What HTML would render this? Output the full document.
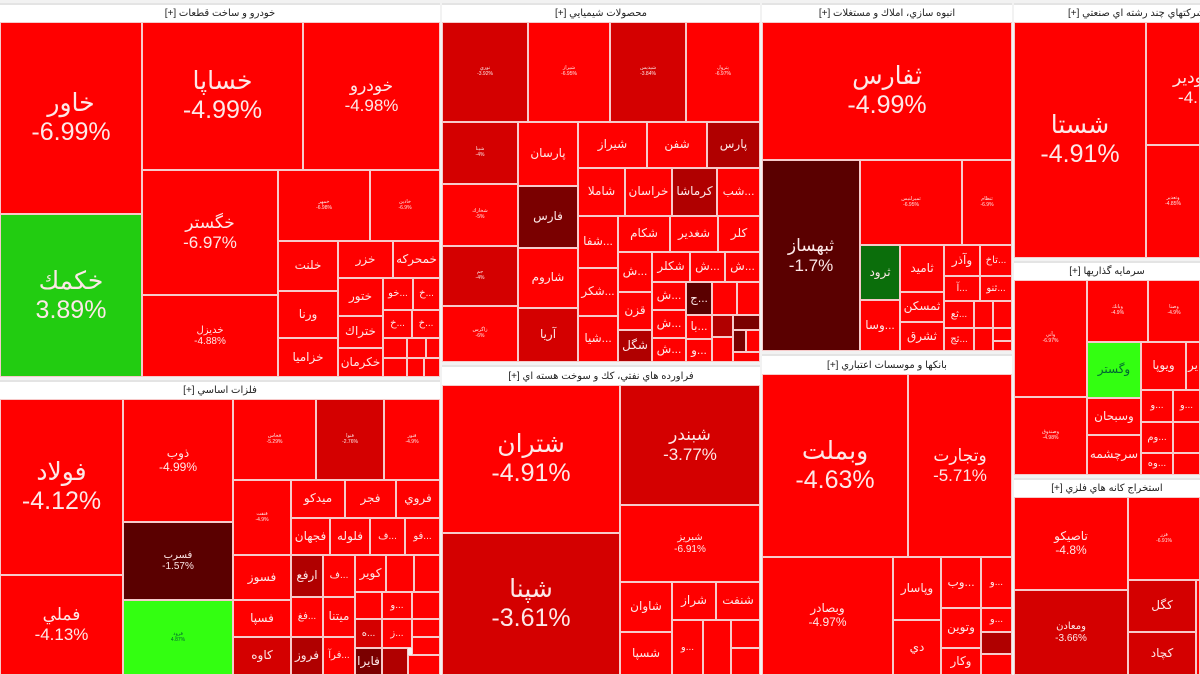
<!DOCTYPE html>
<html><head><meta charset="utf-8"><style>
body{margin:0;width:1200px;height:675px;overflow:hidden;background:#f2f2f2;position:relative;font-family:"Liberation Sans","DejaVu Sans","Noto Sans CJK SC",sans-serif}
.t{position:absolute;box-sizing:border-box;border:1px solid #f7caca;display:flex;align-items:center;justify-content:center;flex-direction:column;color:#fde8e8;text-align:center;line-height:1.15;overflow:hidden;background:#f00;font-size:12px;white-space:nowrap}
.h{position:absolute;box-sizing:border-box;background:#fff;border-top:2px solid #e4e4e4;display:flex;align-items:center;justify-content:center;font-size:10px;color:#222;white-space:nowrap;overflow:hidden;direction:rtl}
.b{font-size:25px}.m{font-size:17px}.s{font-size:10px}.x{font-size:5px}
.d1{background:#d40000}.d2{background:#b00000}.d3{background:#7a0000}.d4{background:#5a0000}.g{background:#22cc11}.gd{background:#0b6e0b}.gl{background:#33ff11;color:#063}
</style></head><body>
<!-- car -->
<div class="h" style="left:0;top:3px;width:440px;height:19px">خودرو و ساخت قطعات [+]</div>
<div class="t b" style="left:0;top:22px;width:142px;height:192px">خاور<br>-6.99%</div>
<div class="t b g" style="left:0;top:214px;width:142px;height:163px">خكمك<br>3.89%</div>
<div class="t b" style="left:142px;top:22px;width:161px;height:148px">خساپا<br>-4.99%</div>
<div class="t m" style="left:303px;top:22px;width:137px;height:148px">خودرو<br>-4.98%</div>
<div class="t m" style="left:142px;top:170px;width:136px;height:125px">خگستر<br>-6.97%</div>
<div class="t s" style="left:142px;top:295px;width:136px;height:82px">خديزل<br>-4.88%</div>
<div class="t x" style="left:278px;top:170px;width:92px;height:71px">خمهر<br>-6.98%</div>
<div class="t x" style="left:370px;top:170px;width:70px;height:71px">خاذين<br>-6.9%</div>
<div class="t" style="left:278px;top:241px;width:60px;height:50px">خلنت</div>
<div class="t" style="left:338px;top:241px;width:55px;height:37px">خزر</div>
<div class="t" style="left:393px;top:241px;width:47px;height:37px">خمحركه</div>
<div class="t" style="left:278px;top:291px;width:60px;height:47px">ورنا</div>
<div class="t" style="left:338px;top:278px;width:45px;height:38px">ختور</div>
<div class="t s" style="left:383px;top:278px;width:30px;height:32px">خو...</div>
<div class="t s" style="left:413px;top:278px;width:27px;height:32px">خ...</div>
<div class="t" style="left:278px;top:338px;width:60px;height:39px">خزاميا</div>
<div class="t" style="left:338px;top:316px;width:45px;height:32px">ختراك</div>
<div class="t" style="left:338px;top:348px;width:45px;height:29px">خكرمان</div>
<div class="t s" style="left:383px;top:310px;width:29px;height:28px">خ...</div>
<div class="t s" style="left:412px;top:310px;width:28px;height:28px">خ...</div>
<div class="t" style="left:383px;top:338px;width:24px;height:20px"></div>
<div class="t" style="left:407px;top:338px;width:19px;height:20px"></div>
<div class="t" style="left:426px;top:338px;width:14px;height:20px"></div>
<div class="t" style="left:383px;top:358px;width:24px;height:19px"></div>
<div class="t" style="left:407px;top:358px;width:17px;height:19px"></div>
<div class="t" style="left:424px;top:358px;width:16px;height:19px"></div>
<!-- metals -->
<div class="h" style="left:0;top:380px;width:440px;height:19px">فلزات اساسي [+]</div>
<div class="t b" style="left:0;top:399px;width:123px;height:176px">فولاد<br>-4.12%</div>
<div class="t m" style="left:0;top:575px;width:123px;height:100px">فملي<br>-4.13%</div>
<div class="t" style="left:123px;top:399px;width:110px;height:123px">ذوب<br>-4.99%</div>
<div class="t s d4" style="left:123px;top:522px;width:110px;height:78px">فسرب<br>-1.57%</div>
<div class="t x gl" style="left:123px;top:600px;width:110px;height:75px">فرود<br>4.87%</div>
<div class="t x" style="left:233px;top:399px;width:83px;height:81px">فخاس<br>-5.29%</div>
<div class="t x d1" style="left:316px;top:399px;width:68px;height:81px">فنوا<br>-2.76%</div>
<div class="t x" style="left:384px;top:399px;width:56px;height:81px">فنور<br>-4.9%</div>
<div class="t x" style="left:233px;top:480px;width:58px;height:75px">فنفت<br>-4.9%</div>
<div class="t" style="left:291px;top:480px;width:54px;height:38px">ميدكو</div>
<div class="t" style="left:345px;top:480px;width:51px;height:38px">فجر</div>
<div class="t" style="left:396px;top:480px;width:44px;height:38px">فروي</div>
<div class="t" style="left:291px;top:518px;width:39px;height:37px">فجهان</div>
<div class="t" style="left:330px;top:518px;width:40px;height:37px">فلوله</div>
<div class="t s" style="left:370px;top:518px;width:35px;height:37px">ف...</div>
<div class="t s" style="left:405px;top:518px;width:35px;height:37px">فو...</div>
<div class="t" style="left:233px;top:555px;width:58px;height:45px">فسوز</div>
<div class="t" style="left:233px;top:600px;width:58px;height:37px">فسپا</div>
<div class="t d1" style="left:233px;top:637px;width:58px;height:38px">كاوه</div>
<div class="t d2" style="left:291px;top:555px;width:32px;height:42px">ارفع</div>
<div class="t s" style="left:323px;top:555px;width:32px;height:42px">ف...</div>
<div class="t" style="left:355px;top:555px;width:31px;height:37px">كوير</div>
<div class="t" style="left:386px;top:555px;width:28px;height:37px"></div>
<div class="t" style="left:414px;top:555px;width:26px;height:37px"></div>
<div class="t s" style="left:291px;top:597px;width:32px;height:40px">فغ...</div>
<div class="t" style="left:323px;top:597px;width:32px;height:40px">ميتنا</div>
<div class="t" style="left:355px;top:592px;width:27px;height:27px"></div>
<div class="t s" style="left:382px;top:592px;width:30px;height:27px">و...</div>
<div class="t" style="left:412px;top:592px;width:28px;height:27px"></div>
<div class="t s d1" style="left:355px;top:619px;width:27px;height:29px">ه...</div>
<div class="t s" style="left:382px;top:619px;width:30px;height:29px">ز...</div>
<div class="t" style="left:412px;top:619px;width:28px;height:18px"></div>
<div class="t" style="left:412px;top:637px;width:28px;height:18px"></div>
<div class="t d2" style="left:291px;top:637px;width:32px;height:38px">فروز</div>
<div class="t s" style="left:323px;top:637px;width:32px;height:38px">فرآ...</div>
<div class="t d3" style="left:355px;top:648px;width:27px;height:27px">فايرا</div>
<div class="t d2" style="left:382px;top:648px;width:26px;height:27px"></div>
<div class="t" style="left:408px;top:655px;width:32px;height:20px"></div>
<!-- chemical -->
<div class="h" style="left:442px;top:3px;width:318px;height:19px">محصولات شيميايي [+]</div>
<div class="t x d1" style="left:442px;top:22px;width:86px;height:100px">نوري<br>-3.92%</div>
<div class="t x" style="left:528px;top:22px;width:82px;height:100px">شيراز<br>-6.95%</div>
<div class="t x d1" style="left:610px;top:22px;width:76px;height:100px">شپديس<br>-3.84%</div>
<div class="t x" style="left:686px;top:22px;width:74px;height:100px">پترول<br>-6.97%</div>
<div class="t x d1" style="left:442px;top:122px;width:76px;height:62px">شپنا<br>-4%</div>
<div class="t x" style="left:442px;top:184px;width:76px;height:62px">شخارك<br>-5%</div>
<div class="t x d1" style="left:442px;top:246px;width:76px;height:60px">جم<br>-4%</div>
<div class="t x" style="left:442px;top:306px;width:76px;height:56px">زاگرس<br>-6%</div>
<div class="t" style="left:518px;top:122px;width:60px;height:64px">پارسان</div>
<div class="t d3" style="left:518px;top:186px;width:60px;height:62px">فارس</div>
<div class="t" style="left:518px;top:248px;width:60px;height:60px">شاروم</div>
<div class="t d1" style="left:518px;top:308px;width:60px;height:54px">آريا</div>
<div class="t" style="left:578px;top:122px;width:69px;height:46px">شيراز</div>
<div class="t" style="left:647px;top:122px;width:60px;height:46px">شفن</div>
<div class="t d2" style="left:707px;top:122px;width:53px;height:46px">پارس</div>
<div class="t" style="left:578px;top:168px;width:47px;height:48px">شاملا</div>
<div class="t" style="left:625px;top:168px;width:47px;height:48px">خراسان</div>
<div class="t d2" style="left:672px;top:168px;width:45px;height:48px">كرماشا</div>
<div class="t" style="left:717px;top:168px;width:43px;height:48px">شب...</div>
<div class="t" style="left:578px;top:216px;width:40px;height:52px">شفا...</div>
<div class="t" style="left:578px;top:268px;width:40px;height:48px">شكر...</div>
<div class="t" style="left:578px;top:316px;width:40px;height:46px">شيا...</div>
<div class="t" style="left:618px;top:216px;width:52px;height:36px">شكام</div>
<div class="t" style="left:670px;top:216px;width:48px;height:36px">شغدير</div>
<div class="t" style="left:718px;top:216px;width:42px;height:36px">كلر</div>
<div class="t" style="left:618px;top:252px;width:34px;height:40px">ش...</div>
<div class="t" style="left:618px;top:292px;width:34px;height:38px">قزن</div>
<div class="t d2" style="left:618px;top:330px;width:34px;height:32px">شگل</div>
<div class="t" style="left:652px;top:252px;width:38px;height:30px">شكلر</div>
<div class="t" style="left:690px;top:252px;width:35px;height:30px">ش...</div>
<div class="t" style="left:725px;top:252px;width:35px;height:30px">ش...</div>
<div class="t" style="left:652px;top:282px;width:34px;height:28px">ش...</div>
<div class="t d4" style="left:686px;top:282px;width:26px;height:33px">ج...</div>
<div class="t" style="left:712px;top:282px;width:25px;height:33px"></div>
<div class="t" style="left:737px;top:282px;width:23px;height:33px"></div>
<div class="t" style="left:652px;top:310px;width:34px;height:28px">ش...</div>
<div class="t" style="left:686px;top:315px;width:26px;height:24px">با...</div>
<div class="t d2" style="left:712px;top:315px;width:21px;height:22px"></div>
<div class="t d3" style="left:733px;top:315px;width:27px;height:15px"></div>
<div class="t" style="left:652px;top:338px;width:34px;height:24px">ش...</div>
<div class="t" style="left:686px;top:339px;width:26px;height:23px">و...</div>
<div class="t" style="left:712px;top:337px;width:21px;height:25px"></div>
<div class="t d3" style="left:733px;top:330px;width:13px;height:22px"></div>
<div class="t" style="left:746px;top:330px;width:14px;height:22px"></div>
<div class="t" style="left:733px;top:352px;width:27px;height:10px"></div>
<!-- oil -->
<div class="h" style="left:442px;top:365px;width:318px;height:20px">فراورده هاي نفتي، كك و سوخت هسته اي [+]</div>
<div class="t b" style="left:442px;top:385px;width:178px;height:148px">شتران<br>-4.91%</div>
<div class="t b d1" style="left:442px;top:533px;width:178px;height:142px">شپنا<br>-3.61%</div>
<div class="t m d1" style="left:620px;top:385px;width:140px;height:120px">شبندر<br>-3.77%</div>
<div class="t s" style="left:620px;top:505px;width:140px;height:77px">شبريز<br>-6.91%</div>
<div class="t" style="left:620px;top:582px;width:52px;height:50px">شاوان</div>
<div class="t" style="left:620px;top:632px;width:52px;height:43px">شسپا</div>
<div class="t" style="left:672px;top:582px;width:44px;height:38px">شراز</div>
<div class="t" style="left:716px;top:582px;width:44px;height:38px">شنفت</div>
<div class="t s" style="left:672px;top:620px;width:31px;height:55px">و...</div>
<div class="t" style="left:703px;top:620px;width:28px;height:55px"></div>
<div class="t" style="left:731px;top:620px;width:29px;height:28px"></div>
<div class="t" style="left:731px;top:648px;width:29px;height:27px"></div>
<!-- building -->
<div class="h" style="left:762px;top:3px;width:250px;height:19px">انبوه سازي، املاك و مستغلات [+]</div>
<div class="t b" style="left:762px;top:22px;width:250px;height:138px">ثفارس<br>-4.99%</div>
<div class="t m d4" style="left:762px;top:160px;width:98px;height:191px">ثبهساز<br>-1.7%</div>
<div class="t x" style="left:860px;top:160px;width:102px;height:85px">ثميرلنيس<br>-6.95%</div>
<div class="t x" style="left:962px;top:160px;width:50px;height:85px">ثنظام<br>-6.9%</div>
<div class="t gd" style="left:860px;top:245px;width:40px;height:55px">ثرود</div>
<div class="t" style="left:900px;top:245px;width:44px;height:47px">ثاميد</div>
<div class="t" style="left:944px;top:245px;width:36px;height:31px">وآذر</div>
<div class="t s" style="left:980px;top:245px;width:32px;height:31px">تاخ...</div>
<div class="t s" style="left:944px;top:276px;width:36px;height:25px">آ...</div>
<div class="t s" style="left:980px;top:276px;width:32px;height:25px">ثنو...</div>
<div class="t" style="left:860px;top:300px;width:40px;height:51px">وسا...</div>
<div class="t" style="left:900px;top:292px;width:44px;height:30px">ثمسكن</div>
<div class="t" style="left:900px;top:322px;width:44px;height:29px">ثشرق</div>
<div class="t s" style="left:944px;top:301px;width:30px;height:27px">ثع...</div>
<div class="t s" style="left:944px;top:328px;width:30px;height:23px">ثج...</div>
<div class="t" style="left:974px;top:301px;width:19px;height:27px"></div>
<div class="t" style="left:993px;top:301px;width:19px;height:27px"></div>
<div class="t" style="left:974px;top:328px;width:19px;height:23px"></div>
<div class="t" style="left:993px;top:328px;width:19px;height:13px"></div>
<div class="t" style="left:993px;top:341px;width:19px;height:10px"></div>
<!-- banks -->
<div class="h" style="left:762px;top:354px;width:250px;height:20px">بانكها و موسسات اعتباري [+]</div>
<div class="t b" style="left:762px;top:374px;width:146px;height:183px">وبملت<br>-4.63%</div>
<div class="t m" style="left:908px;top:374px;width:104px;height:183px">وتجارت<br>-5.71%</div>
<div class="t" style="left:762px;top:557px;width:131px;height:118px">وبصادر<br>-4.97%</div>
<div class="t" style="left:893px;top:557px;width:48px;height:63px">وپاسار</div>
<div class="t" style="left:893px;top:620px;width:48px;height:55px">دي</div>
<div class="t" style="left:941px;top:557px;width:40px;height:51px">وب...</div>
<div class="t s" style="left:981px;top:557px;width:31px;height:51px">و...</div>
<div class="t" style="left:941px;top:608px;width:40px;height:40px">وتوين</div>
<div class="t" style="left:941px;top:648px;width:40px;height:27px">وكار</div>
<div class="t s" style="left:981px;top:608px;width:31px;height:24px">و...</div>
<div class="t d2" style="left:981px;top:632px;width:31px;height:22px"></div>
<div class="t" style="left:981px;top:654px;width:31px;height:21px"></div>
<!-- multi -->
<div class="h" style="left:1014px;top:3px;width:186px;height:19px;justify-content:flex-end;padding-left:54px">شركتهاي چند رشته اي صنعتي [+]</div>
<div class="t b" style="left:1014px;top:22px;width:132px;height:236px">شستا<br>-4.91%</div>
<div class="t m" style="left:1146px;top:22px;width:54px;height:123px;justify-content:flex-start;padding-top:45px;align-items:flex-start;padding-left:26px">ودير<br>-4.</div>
<div class="t x" style="left:1146px;top:145px;width:54px;height:113px">وتعدير<br>-4.85%</div>
<!-- investment -->
<div class="h" style="left:1014px;top:261px;width:186px;height:19px">سرمايه گذاريها [+]</div>
<div class="t x" style="left:1014px;top:280px;width:73px;height:117px">وآتي<br>-6.97%</div>
<div class="t x" style="left:1014px;top:397px;width:73px;height:78px">وصندوق<br>-4.98%</div>
<div class="t x" style="left:1087px;top:280px;width:61px;height:62px">وبانك<br>-4.9%</div>
<div class="t x" style="left:1148px;top:280px;width:52px;height:62px">وصنا<br>-4.9%</div>
<div class="t gl" style="left:1087px;top:342px;width:54px;height:56px">وگستر</div>
<div class="t" style="left:1141px;top:342px;width:45px;height:48px">ويوپا</div>
<div class="t" style="left:1186px;top:342px;width:14px;height:48px">ير</div>
<div class="t" style="left:1087px;top:398px;width:54px;height:37px">وسبحان</div>
<div class="t" style="left:1087px;top:435px;width:54px;height:40px">سرچشمه</div>
<div class="t s" style="left:1141px;top:390px;width:32px;height:32px">و...</div>
<div class="t s" style="left:1173px;top:390px;width:27px;height:32px">و...</div>
<div class="t s" style="left:1141px;top:422px;width:32px;height:31px">وم...</div>
<div class="t" style="left:1173px;top:422px;width:27px;height:31px"></div>
<div class="t s" style="left:1141px;top:453px;width:32px;height:22px">وه...</div>
<div class="t" style="left:1173px;top:453px;width:27px;height:22px"></div>
<!-- mining -->
<div class="h" style="left:1014px;top:478px;width:186px;height:19px">استخراج كانه هاي فلزي [+]</div>
<div class="t" style="left:1014px;top:497px;width:114px;height:93px">تاصيكو<br>-4.8%</div>
<div class="t x" style="left:1128px;top:497px;width:72px;height:83px">فزر<br>-6.91%</div>
<div class="t s d1" style="left:1014px;top:590px;width:114px;height:85px">ومعادن<br>-3.66%</div>
<div class="t d1" style="left:1128px;top:580px;width:68px;height:52px">كگل</div>
<div class="t d1" style="left:1128px;top:632px;width:68px;height:43px">كچاد</div>
<div class="t" style="left:1196px;top:580px;width:4px;height:95px"></div>
</body></html>
